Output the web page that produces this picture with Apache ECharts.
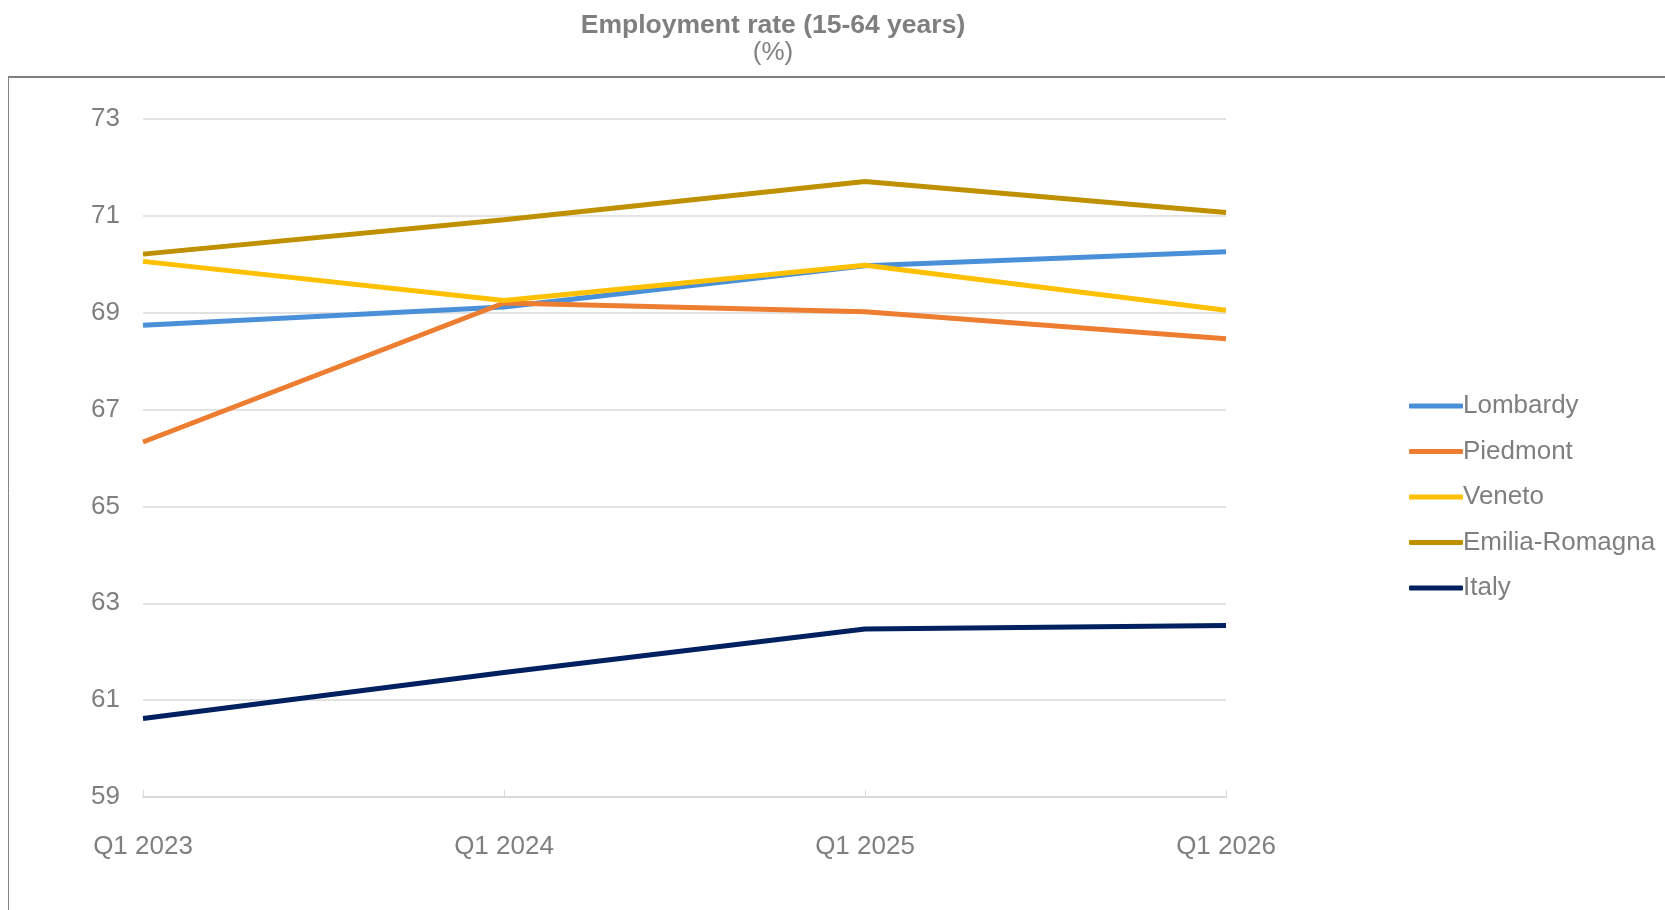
<!DOCTYPE html>
<html>
<head>
<meta charset="utf-8">
<script src="https://cdn.jsdelivr.net/npm/echarts@6/dist/echarts.min.js"></script>
<style>
html, body { margin: 0; padding: 0; background: #fff; }
#chart { width: 1665px; height: 910px; }
</style>
</head>
<body>
<div id="chart"></div>
<script>
// quarters on the x axis
const quarters = ['Q1 2023', 'Q1 2024', 'Q1 2025', 'Q1 2026'];

// employment rate, 15-64 years (%)
const lombardy = [68.74, 69.12, 69.97, 70.26];
const piedmont = [66.33, 69.20, 69.02, 68.46];
const veneto = [70.06, 69.25, 69.98, 69.05];
const emiliaRomagna = [70.21, 70.92, 71.71, 71.07];
const italy = [60.62, 61.57, 62.47, 62.54];

const seriesNames = ['Lombardy', 'Piedmont', 'Veneto', 'Emilia-Romagna', 'Italy'];
const seriesColors = ['#4a90d9', '#ed7d31', '#ffc000', '#bf9000', '#002060'];
const seriesData = [lombardy, piedmont, veneto, emiliaRomagna, italy];

const textGrey = '#7f7f7f';
const font = 'Arial, "Liberation Sans", sans-serif';

var chart = echarts.init(document.getElementById('chart'));

const option = {
    backgroundColor: '#fff',
    animation: false,
    textStyle: { fontFamily: font },
    title: {
        text: 'Employment rate (15-64 years)',
        subtext: '(%)',
        left: 768,
        textAlign: 'center',
        top: 7,
        itemGap: 1,
        textStyle: { color: textGrey, fontSize: 26.5, fontWeight: 'bold', fontFamily: font },
        subtextStyle: { color: textGrey, fontSize: 26, fontFamily: font }
    },
    graphic: [
        { type: 'line', shape: { x1: 8, y1: 77, x2: 1665, y2: 77 }, style: { stroke: '#808080', lineWidth: 2 } },
        { type: 'line', shape: { x1: 8.5, y1: 77, x2: 8.5, y2: 910 }, style: { stroke: '#808080', lineWidth: 1 } }
    ],
    legend: {
        orient: 'vertical',
        left: 1404,
        top: 388,
        itemWidth: 54,
        itemHeight: 5,
        itemGap: 19.5,
        icon: 'roundRect',
        textStyle: { color: textGrey, fontSize: 26, fontFamily: font, padding: [0, 0, 0, -5] },
        data: seriesNames
    },
    grid: { left: 143, right: 439, top: 119, bottom: 113 },
    xAxis: {
        type: 'category',
        data: quarters,
        boundaryGap: false,
        axisLine: { lineStyle: { color: '#d9d9d9', width: 2 } },
        axisTick: { show: true, inside: true, length: 7, lineStyle: { color: '#d9d9d9', width: 1 } },
        axisLabel: { color: textGrey, fontSize: 26, margin: 37, fontFamily: font }
    },
    yAxis: {
        type: 'value',
        min: 59,
        max: 73,
        interval: 2,
        axisLine: { show: false },
        axisTick: { show: false },
        splitLine: { lineStyle: { color: '#d9d9d9', width: 1.5 } },
        axisLabel: { color: textGrey, fontSize: 26, margin: 23, fontFamily: font }
    },
    series: seriesData.map(function (d, i) {
        return {
            name: seriesNames[i],
            type: 'line',
            data: d,
            symbol: 'none',
            lineStyle: { width: 5, color: seriesColors[i] },
            itemStyle: { color: seriesColors[i] }
        };
    })
};

chart.setOption(option);
</script>
</body>
</html>
